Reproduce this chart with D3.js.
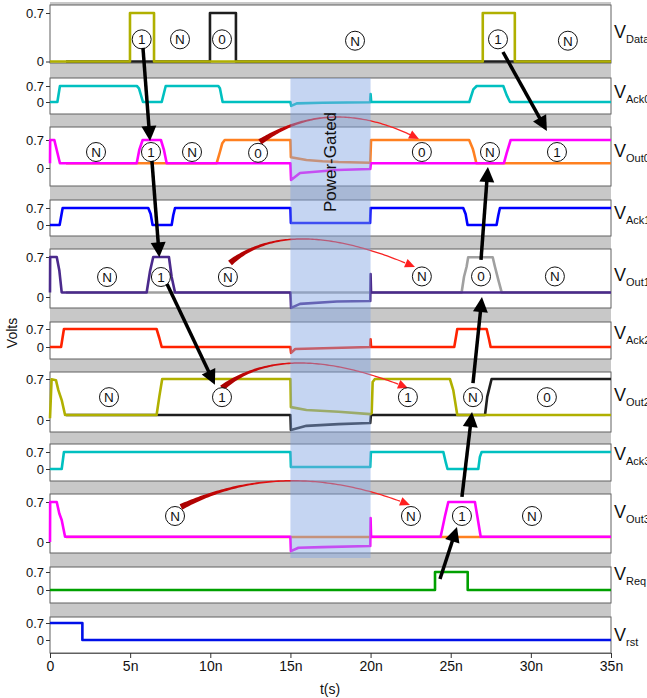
<!DOCTYPE html>
<html><head><meta charset="utf-8">
<script src="https://cdn.jsdelivr.net/npm/d3@7"></script>
<style>body{margin:0;background:#fff}svg{display:block}text{font-family:"Liberation Sans",Arial,Helvetica,sans-serif}</style>
</head><body><svg id="c" width="647" height="698"></svg>
<script>
// ---------------- DATA ----------------
const panelNames = ["Data","Ack0","Out0","Ack1","Out1","Ack2","Out2","Ack3","Out3","Req","rst"];
const yTickValues = [0, 0.7];
const yTickLabels = ["0", "0.7"];
const xTickValues = [0,5,10,15,20,25,30,35];
const xTickLabels = ["0","5n","10n","15n","20n","25n","30n","35n"];
const gatedInterval = [15, 20];

// signal samples: [t (ns), V]
const vData1 = [[0,0],[4.99,0],[4.99,0.7],[6.49,0.7],[6.49,0],[27.0,0],[27.0,0.7],[29.0,0.7],[29.0,0],[35,0]];
const vData0 = [[1,0],[9.98,0],[9.98,0.7],[11.6,0.7],[11.6,0],[35,0]];
const vAck0 = [[0,0],[0.46,0],[0.62,0.7],[5.42,0.7],[5.55,0.6],[5.8,0],[6.97,0],[7.22,0.7],[10.5,0.7],[10.6,0.6],[10.77,0],[15,0],[15.05,-0.17],[15.4,-0.06],[17,-0.03],[19.97,-0.01],[20,0.35],[20.04,0],[26.16,0],[26.41,0.55],[26.62,0.7],[28.28,0.7],[28.49,0.3],[28.7,0],[35,0]];
const vOut0b = [[1,0.12],[10.4,0.12],[10.6,0.4],[10.75,0.62],[10.9,0.7],[15,0.7],[15.03,0.27],[16,0.2],[17,0.17],[18,0.15],[19.98,0.13],[20.03,0.7],[26.15,0.7],[26.37,0.49],[26.45,0.37],[26.6,0.12],[35,0.12]];
const vOut0a = [[0,0.12],[0.01,0.7],[0.27,0.7],[0.62,0.12],[5.41,0.12],[5.57,0.45],[5.78,0.7],[6.92,0.7],[7.11,0.45],[7.28,0.12],[15,0.12],[15.04,-0.3],[15.6,-0.125],[17.9,-0.05],[19.98,-0.025],[20.02,0.12],[28.32,0.12],[28.49,0.37],[28.74,0.7],[35,0.7]];
const vAck1 = [[0,0],[0.6,0],[0.79,0.7],[6.13,0.7],[6.28,0.45],[6.4,0],[7.59,0],[7.69,0.4],[7.8,0.7],[15,0.7],[15.03,0.08],[19.97,0.08],[20,0.7],[25.78,0.7],[25.93,0.45],[26.05,0],[27.86,0],[27.97,0.4],[28.07,0.7],[35,0.7]];
const vOut1b = [[1,0.08],[25.68,0.08],[25.83,0.355],[25.99,0.53],[26.09,0.695],[27.62,0.695],[27.76,0.53],[27.97,0.3],[28.18,0.08],[35,0.08]];
const vOut1a = [[0,0.08],[0.01,0.7],[0.42,0.7],[0.58,0.47],[0.73,0.08],[6.03,0.08],[6.24,0.45],[6.44,0.7],[7.42,0.7],[7.59,0.35],[7.8,0.08],[15,0.08],[15.04,-0.19],[15.6,-0.12],[17.9,-0.08],[19.98,-0.07],[20,0.4],[20.03,0.08],[35,0.08]];
const vAck2 = [[0,0],[0.69,0],[0.87,0.7],[6.65,0.7],[6.82,0.35],[6.97,0],[15,0],[15.04,-0.23],[15.3,-0.08],[19.98,0],[20,0.3],[20.03,0],[25.22,0],[25.33,0.4],[25.41,0.7],[27.24,0.7],[27.39,0.3],[27.49,0],[35,0]];
const vOut2b = [[1,0.085],[15,0.085],[15.03,-0.17],[16,-0.1],[18,-0.07],[19.98,-0.05],[20.02,0.085],[27.14,0.085],[27.28,0.4],[27.55,0.7],[35,0.7]];
const vOut2a = [[0,0.03],[0.1,0.695],[0.37,0.68],[0.52,0.51],[0.73,0.34],[0.94,0.085],[6.65,0.085],[6.82,0.4],[7.0,0.7],[15,0.7],[15.03,0.22],[16,0.17],[18,0.14],[19.98,0.1],[20.07,0.12],[20.13,0.65],[20.27,0.7],[24.95,0.7],[25.16,0.51],[25.41,0.085],[35,0.085]];
const vAck3 = [[0,0],[0.73,0],[0.87,0.7],[15,0.7],[15.03,0.08],[19.98,0.08],[20.02,0.7],[24.54,0.7],[24.7,0.25],[24.8,0],[26.72,0],[26.82,0.5],[26.93,0.7],[35,0.7]];
const vOut3b = [[1,0.088],[35,0.088]];
const vOut3a = [[0,0],[0.01,0.7],[0.42,0.7],[0.58,0.5],[0.73,0.385],[0.94,0.093],[15,0.093],[15.03,-0.16],[15.5,-0.1],[17,-0.09],[19.98,-0.07],[20,0.42],[20.03,0.093],[24.37,0.093],[24.64,0.45],[24.85,0.7],[26.51,0.7],[26.66,0.45],[26.87,0.093],[35,0.093]];
const vReq = [[0,0],[24.02,0],[24.02,0.7],[26.06,0.7],[26.06,0],[35,0]];
const vRst = [[0,0.7],[2.02,0.7],[2.02,0],[35,0]];

// token annotations: [panel, t, V, label]
const tokens = [
  [0,5.72,0.32,"1"],[0,8.11,0.32,"N"],[0,10.73,0.32,"0"],[0,19.03,0.3,"N"],[0,27.95,0.32,"1"],[0,32.31,0.3,"N"],
  [2,2.87,0.4,"N"],[2,6.3,0.4,"1"],[2,8.86,0.4,"N"],[2,12.98,0.38,"0"],[2,23.2,0.4,"0"],[2,27.45,0.4,"N"],[2,31.63,0.4,"1"],
  [4,3.56,0.35,"N"],[4,6.92,0.35,"1"],[4,11.1,0.35,"N"],[4,23.2,0.36,"N"],[4,26.89,0.36,"0"],[4,31.5,0.36,"N"],
  [6,3.68,0.39,"N"],[6,10.73,0.39,"1"],[6,22.33,0.39,"1"],[6,26.39,0.39,"N"],[6,31.0,0.39,"0"],
  [8,7.8,0.455,"N"],[8,22.52,0.455,"N"],[8,25.7,0.455,"1"],[8,30.07,0.455,"N"]
];
// causal arrows: from [panel,t,V] to [panel,t,V]
const arrows = [
  [[0,5.8,0.195],[2,6.24,0.675]],
  [[2,6.36,0.175],[4,6.82,0.695]],
  [[4,7.3,0.228],[6,10.29,0.6]],
  [[0,28.26,0.137],[2,31.0,0.925]],
  [[4,26.89,0.648],[2,27.32,0.025]],
  [[6,26.39,0.63],[4,26.95,0.0]],
  [[8,25.7,0.79],[6,26.33,0.137]],
  [[9,24.33,0.43],[8,25.39,0.263]]
];
// retained-state arcs: [panel, [t,V] start, [t,V] control, [t,V] end]
const arcs = [
  [2,[13.1,0.65],[17.5,1.86],[23.02,0.725]],
  [4,[11.23,0.595],[14.97,1.47],[22.77,0.525]],
  [6,[10.73,0.546],[14.66,1.40],[22.33,0.546]],
  [8,[8.17,0.6125],[14.66,1.514],[22.46,0.6475]]
];

// ---------------- LAYOUT / STYLE ----------------
const C = {olive:"#b0b000",black:"#1e1e1e",cyan:"#00c0c0",mag:"#ff00ff",orange:"#ff8020",blue:"#0000ff",
           purple:"#4b2a8c",gray:"#a0a0a0",red:"#ff2200",green:"#00a000",rst:"#0010e8"};
const signals = [
  {p:0,d:vData0,c:C.black},{p:0,d:vData1,c:C.olive},
  {p:1,d:vAck0,c:C.cyan},
  {p:2,d:vOut0b,c:C.orange},{p:2,d:vOut0a,c:C.mag},
  {p:3,d:vAck1,c:C.blue},
  {p:4,d:vOut1b,c:C.gray},{p:4,d:vOut1a,c:C.purple},
  {p:5,d:vAck2,c:C.red},
  {p:6,d:vOut2b,c:C.black},{p:6,d:vOut2a,c:C.olive},
  {p:7,d:vAck3,c:C.cyan},
  {p:8,d:vOut3b,c:C.orange},{p:8,d:vOut3a,c:C.mag},
  {p:9,d:vReq,c:C.green},
  {p:10,d:vRst,c:C.rst}
];
const layout = [
 {top:5,bottom:63,y0:61.5,y7:13,labelY:38},
 {top:78,bottom:114,y0:102,y7:86,labelY:98},
 {top:127,bottom:186,y0:168,y7:140,labelY:157},
 {top:200,bottom:236,y0:225,y7:208,labelY:219},
 {top:249,bottom:308,y0:297,y7:257,labelY:281},
 {top:322,bottom:359,y0:347,y7:329,labelY:339},
 {top:372,bottom:432,y0:420,y7:379,labelY:401},
 {top:444,bottom:481,y0:469,y7:452,labelY:460},
 {top:494,bottom:553,y0:542,y7:502,labelY:518},
 {top:567,bottom:603,y0:590,y7:572,labelY:580},
 {top:617,bottom:653,y0:640,y7:623,labelY:641}
];

const svg = d3.select("#c");
const x = d3.scaleLinear().domain([0,35]).range([50,611]);
const ys = layout.map(l => d3.scaleLinear().domain([0,0.7]).range([l.y0,l.y7]));
const P = (p,t,v) => [x(t), ys[p](v)];

// background
svg.append("rect").attr("x",x(0)).attr("y",2).attr("width",x(35)-x(0)).attr("height",layout[10].bottom-2).attr("fill","#c8c8c8");
// panels
layout.forEach((l,i)=>{
  svg.append("rect").attr("x",x(0)).attr("y",l.top).attr("width",x(35)-x(0)).attr("height",l.bottom-l.top)
    .attr("fill","#fff").attr("stroke","#606060").attr("stroke-width",1);
  const ax = svg.append("g").attr("transform",`translate(${x(0)},0)`)
    .call(d3.axisLeft(ys[i]).tickValues(yTickValues).tickFormat((d,j)=>yTickLabels[j]).tickSize(4).tickSizeOuter(0));
  ax.select(".domain").remove();
  ax.selectAll("line").attr("stroke","#333");
  ax.selectAll("text").attr("font-size",13).attr("fill","#111").attr("font-family",'"Liberation Sans",Arial,sans-serif').attr("x",-6);
  const lab = svg.append("text").attr("x",614).attr("y",l.labelY).attr("font-size",18).attr("fill","#111");
  lab.append("tspan").text("V");
  lab.append("tspan").attr("font-size",11).attr("dy",5).text(panelNames[i]);
});

// signals
signals.forEach(s=>{
  const line = d3.line().x(d=>x(d[0])).y(d=>ys[s.p](d[1]));
  svg.append("path").attr("d",line(s.d)).attr("fill","none").attr("stroke",s.c)
    .attr("stroke-width",2.6).attr("stroke-linejoin","round");
});

// tapered red arcs
const defs = svg.append("defs");
arcs.forEach((a,k)=>{
  const p0=P(a[0],...a[1]), p1=P(a[0],...a[2]), p2=P(a[0],...a[3]);
  const bez=s=>{const A=(1-s)*(1-s),B=2*(1-s)*s,Cc=s*s;return [A*p0[0]+B*p1[0]+Cc*p2[0],A*p0[1]+B*p1[1]+Cc*p2[1]];};
  const der=s=>[2*(1-s)*(p1[0]-p0[0])+2*s*(p2[0]-p1[0]),2*(1-s)*(p1[1]-p0[1])+2*s*(p2[1]-p1[1])];
  const g = defs.append("linearGradient").attr("id","rg"+k).attr("gradientUnits","userSpaceOnUse")
    .attr("x1",p0[0]).attr("y1",p0[1]).attr("x2",p2[0]).attr("y2",p2[1]);
  g.append("stop").attr("offset",0).attr("stop-color","#a80000");
  g.append("stop").attr("offset",0.35).attr("stop-color","#e01010");
  g.append("stop").attr("offset",1).attr("stop-color","#ff2a2a");
  const N=90, L=[], R=[];
  for(let i=0;i<=N;i++){
    const s=i/N*0.96, pt=bez(s), d=der(s), len=Math.hypot(d[0],d[1]);
    const nx=-d[1]/len, ny=d[0]/len, w=(1.3+4.7*Math.pow(1-s,5))/2;
    L.push([pt[0]+nx*w,pt[1]+ny*w]); R.push([pt[0]-nx*w,pt[1]-ny*w]);
  }
  const poly=L.concat(R.reverse());
  svg.append("path").attr("d","M"+poly.map(q=>q.join(",")).join("L")+"Z").attr("fill",`url(#rg${k})`);
  const d=der(1), len=Math.hypot(d[0],d[1]), ux=d[0]/len, uy=d[1]/len;
  const hl=10, hw=4.5, bx=p2[0]-ux*hl, by=p2[1]-uy*hl;
  svg.append("path").attr("d",`M${p2[0]},${p2[1]}L${bx-uy*hw},${by+ux*hw}L${bx+uy*hw},${by-ux*hw}Z`).attr("fill","#ff2020");
});

// power-gated overlay
svg.append("rect").attr("x",x(gatedInterval[0])).attr("y",layout[1].top)
  .attr("width",x(gatedInterval[1])-x(gatedInterval[0])).attr("height",layout[8].bottom+5-layout[1].top)
  .attr("fill","rgb(132,166,227)").attr("fill-opacity",0.47);
svg.append("text").attr("transform",`translate(${(x(gatedInterval[0])+x(gatedInterval[1]))/2+5},162) rotate(-90)`)
  .attr("text-anchor","middle").attr("font-size",17).attr("fill","#111").text("Power-Gated");

// token circles
tokens.forEach(t=>{
  const [cx,cy]=P(t[0],t[1],t[2]);
  svg.append("circle").attr("cx",cx).attr("cy",cy).attr("r",9.5).attr("fill","#fff").attr("stroke","#111").attr("stroke-width",1);
  svg.append("text").attr("x",cx).attr("y",cy+4.8).attr("text-anchor","middle").attr("font-size",13.5).attr("fill","#111").text(t[3]);
});

// black arrows
arrows.forEach(a=>{
  const s=P(...a[0]), e=P(...a[1]);
  const len=Math.hypot(e[0]-s[0],e[1]-s[1]), ux=(e[0]-s[0])/len, uy=(e[1]-s[1])/len;
  const hl=15, hw=7.5, bx=e[0]-ux*hl, by=e[1]-uy*hl;
  svg.append("line").attr("x1",s[0]).attr("y1",s[1]).attr("x2",bx+ux*2).attr("y2",by+uy*2)
    .attr("stroke","#000").attr("stroke-width",3.5);
  svg.append("path").attr("d",`M${e[0]},${e[1]}L${bx-uy*hw},${by+ux*hw}L${bx+uy*hw},${by-ux*hw}Z`).attr("fill","#000");
});

// x axis
const xa = svg.append("g").attr("transform",`translate(0,${layout[10].bottom})`)
  .call(d3.axisBottom(x).tickValues(xTickValues).tickFormat((d,i)=>xTickLabels[i]).tickSize(5).tickSizeOuter(0));
xa.select(".domain").attr("stroke","#606060");
xa.selectAll("line").attr("stroke","#333");
xa.selectAll("text").attr("font-size",14).attr("fill","#111").attr("font-family",'"Liberation Sans",Arial,sans-serif');

svg.append("text").attr("x",330).attr("y",694).attr("text-anchor","middle").attr("font-size",14).attr("fill","#111").text("t(s)");
svg.append("text").attr("transform","translate(17,333) rotate(-90)").attr("text-anchor","middle").attr("font-size",14).attr("fill","#111").text("Volts");
</script></body></html>
